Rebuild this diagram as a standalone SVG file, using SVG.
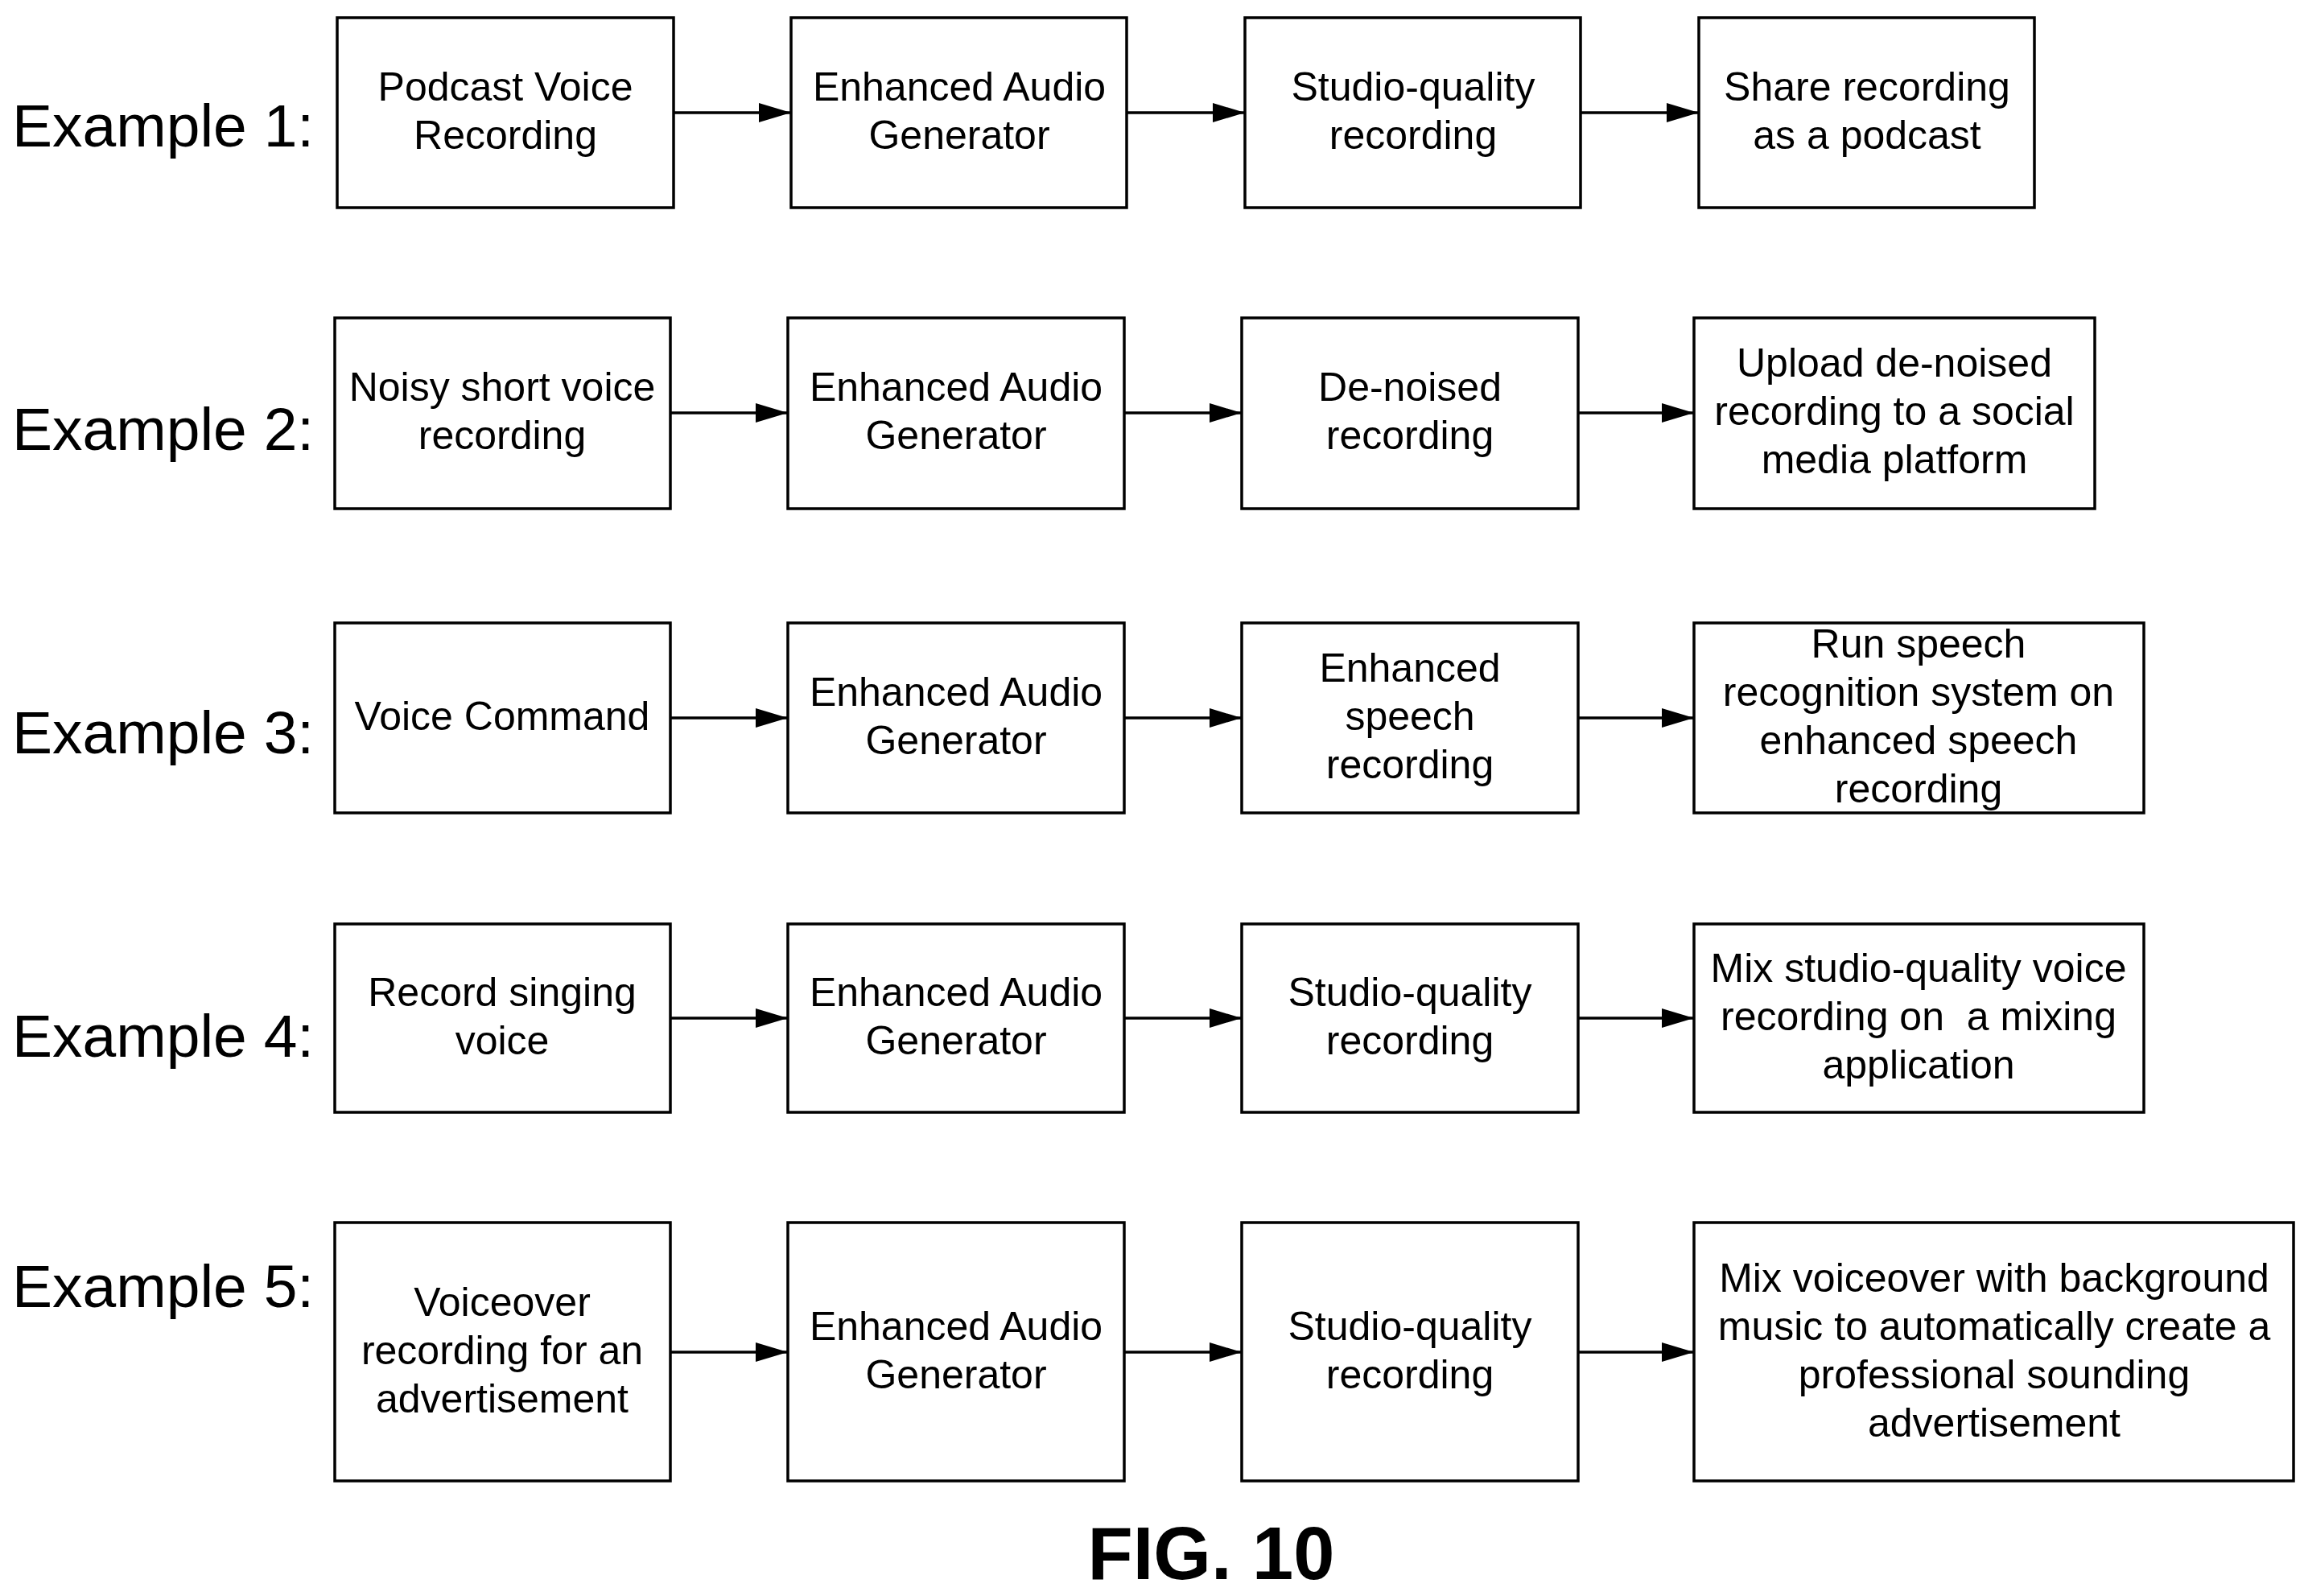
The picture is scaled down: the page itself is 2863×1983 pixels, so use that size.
<svg xmlns="http://www.w3.org/2000/svg" width="2863" height="1983" viewBox="0 0 2863 1983">
<style>
rect{fill:#fff;stroke:#000;stroke-width:3.5}
.t{font-family:"Liberation Sans",Arial,sans-serif;font-size:50px;text-anchor:middle}
.l{font-family:"Liberation Sans",Arial,sans-serif;font-size:75px}
.f{font-family:"Liberation Sans",Arial,sans-serif;font-size:92px;font-weight:bold;text-anchor:middle}
line{stroke:#000;stroke-width:3.5;marker-end:url(#a)}
</style>
<defs><marker id="a" markerUnits="userSpaceOnUse" markerWidth="40" markerHeight="24" refX="40" refY="12" orient="auto"><path d="M0,0L40,12L0,24z"/></marker></defs>
<rect width="2863" height="1983" style="fill:#fff;stroke:none"/>
<g id="labels">
<text class="l" x="15" y="182">Example 1:</text>
<text class="l" x="15" y="559">Example 2:</text>
<text class="l" x="15" y="936">Example 3:</text>
<text class="l" x="15" y="1313">Example 4:</text>
<text class="l" x="15" y="1624">Example 5:</text>
</g>
<g id="r1">
<g id="n11"><rect x="419" y="22" width="418" height="236"/><text class="t" x="628" y="125">Podcast Voice</text><text class="t" x="628" y="185">Recording</text></g>
<g id="n12"><rect x="983" y="22" width="417" height="236"/><text class="t" x="1192" y="125">Enhanced Audio</text><text class="t" x="1192" y="185">Generator</text></g>
<g id="n13"><rect x="1547" y="22" width="417" height="236"/><text class="t" x="1756" y="125">Studio-quality</text><text class="t" x="1756" y="185">recording</text></g>
<g id="n14"><rect x="2111" y="22" width="417" height="236"/><text class="t" x="2320" y="125">Share recording</text><text class="t" x="2320" y="185">as a podcast</text></g>
</g>
<g id="r2">
<g id="n21"><rect x="416" y="395" width="417" height="237"/><text class="t" x="624" y="498">Noisy short voice</text><text class="t" x="624" y="558">recording</text></g>
<g id="n22"><rect x="979" y="395" width="418" height="237"/><text class="t" x="1188" y="498">Enhanced Audio</text><text class="t" x="1188" y="558">Generator</text></g>
<g id="n23"><rect x="1543" y="395" width="418" height="237"/><text class="t" x="1752" y="498">De-noised</text><text class="t" x="1752" y="558">recording</text></g>
<g id="n24"><rect x="2105" y="395" width="498" height="237"/><text class="t" x="2354" y="468">Upload de-noised</text><text class="t" x="2354" y="528">recording to a social</text><text class="t" x="2354" y="588">media platform</text></g>
</g>
<g id="r3">
<g id="n31"><rect x="416" y="774" width="417" height="236"/><text class="t" x="624" y="907">Voice Command</text></g>
<g id="n32"><rect x="979" y="774" width="418" height="236"/><text class="t" x="1188" y="877">Enhanced Audio</text><text class="t" x="1188" y="937">Generator</text></g>
<g id="n33"><rect x="1543" y="774" width="418" height="236"/><text class="t" x="1752" y="847">Enhanced</text><text class="t" x="1752" y="907">speech</text><text class="t" x="1752" y="967">recording</text></g>
<g id="n34"><rect x="2105" y="774" width="559" height="236"/><text class="t" x="2384" y="817">Run speech</text><text class="t" x="2384" y="877">recognition system on</text><text class="t" x="2384" y="937">enhanced speech</text><text class="t" x="2384" y="997">recording</text></g>
</g>
<g id="r4">
<g id="n41"><rect x="416" y="1148" width="417" height="234"/><text class="t" x="624" y="1250">Record singing</text><text class="t" x="624" y="1310">voice</text></g>
<g id="n42"><rect x="979" y="1148" width="418" height="234"/><text class="t" x="1188" y="1250">Enhanced Audio</text><text class="t" x="1188" y="1310">Generator</text></g>
<g id="n43"><rect x="1543" y="1148" width="418" height="234"/><text class="t" x="1752" y="1250">Studio-quality</text><text class="t" x="1752" y="1310">recording</text></g>
<g id="n44"><rect x="2105" y="1148" width="559" height="234"/><text class="t" x="2384" y="1220">Mix studio-quality voice</text><text class="t" x="2384" y="1280" xml:space="preserve">recording on  a mixing</text><text class="t" x="2384" y="1340">application</text></g>
</g>
<g id="r5">
<g id="n51"><rect x="416" y="1519" width="417" height="321"/><text class="t" x="624" y="1635">Voiceover</text><text class="t" x="624" y="1695">recording for an</text><text class="t" x="624" y="1755">advertisement</text></g>
<g id="n52"><rect x="979" y="1519" width="418" height="321"/><text class="t" x="1188" y="1665">Enhanced Audio</text><text class="t" x="1188" y="1725">Generator</text></g>
<g id="n53"><rect x="1543" y="1519" width="418" height="321"/><text class="t" x="1752" y="1665">Studio-quality</text><text class="t" x="1752" y="1725">recording</text></g>
<g id="n54"><rect x="2105" y="1519" width="745" height="321"/><text class="t" x="2478" y="1605">Mix voiceover with background</text><text class="t" x="2478" y="1665">music to automatically create a</text><text class="t" x="2478" y="1725">professional sounding</text><text class="t" x="2478" y="1785">advertisement</text></g>
</g>
<g id="connectors">
<line x1="837" y1="140" x2="983" y2="140"/><line x1="1400" y1="140" x2="1547" y2="140"/><line x1="1964" y1="140" x2="2111" y2="140"/>
<line x1="833" y1="513" x2="979" y2="513"/><line x1="1397" y1="513" x2="1543" y2="513"/><line x1="1961" y1="513" x2="2105" y2="513"/>
<line x1="833" y1="892" x2="979" y2="892"/><line x1="1397" y1="892" x2="1543" y2="892"/><line x1="1961" y1="892" x2="2105" y2="892"/>
<line x1="833" y1="1265" x2="979" y2="1265"/><line x1="1397" y1="1265" x2="1543" y2="1265"/><line x1="1961" y1="1265" x2="2105" y2="1265"/>
<line x1="833" y1="1680" x2="979" y2="1680"/><line x1="1397" y1="1680" x2="1543" y2="1680"/><line x1="1961" y1="1680" x2="2105" y2="1680"/>
</g>
<text class="f" x="1505" y="1962">FIG. 10</text>
</svg>
